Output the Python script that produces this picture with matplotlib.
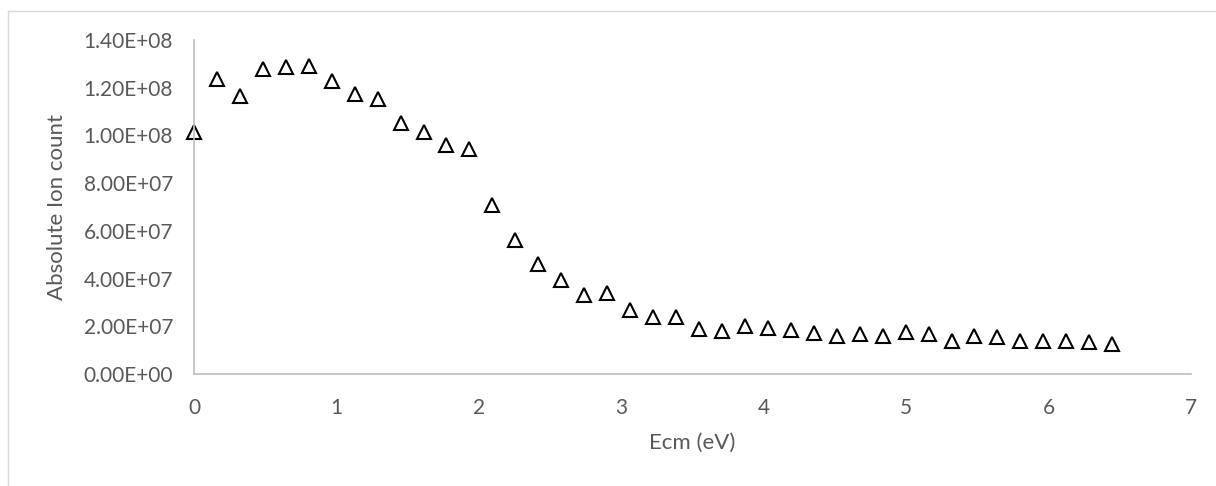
import matplotlib.pyplot as plt
from matplotlib.ticker import FuncFormatter
from matplotlib.lines import Line2D

plt.rcParams['font.family'] = ['Lato', 'DejaVu Sans']

# Ecm (eV) values and measured ion counts
ecm = [0.000, 0.161, 0.322, 0.484, 0.645, 0.806, 0.967, 1.128, 1.290, 1.451,
       1.612, 1.773, 1.934, 2.095, 2.257, 2.418, 2.579, 2.740, 2.901, 3.062,
       3.224, 3.385, 3.546, 3.707, 3.868, 4.029, 4.190, 4.352, 4.513, 4.674,
       4.835, 4.996, 5.158, 5.319, 5.480, 5.641, 5.802, 5.963, 6.124, 6.286,
       6.447]
ion_count = [1.014e8, 1.236e8, 1.165e8, 1.278e8, 1.285e8, 1.290e8, 1.228e8, 1.174e8, 1.153e8, 1.052e8,
             1.014e8, 9.58e7, 9.43e7, 7.10e7, 5.62e7, 4.59e7, 3.94e7, 3.31e7, 3.39e7, 2.68e7,
             2.39e7, 2.39e7, 1.89e7, 1.80e7, 2.03e7, 1.93e7, 1.84e7, 1.71e7, 1.61e7, 1.66e7,
             1.61e7, 1.74e7, 1.68e7, 1.38e7, 1.59e7, 1.55e7, 1.40e7, 1.40e7, 1.40e7, 1.34e7,
             1.26e7]

fig = plt.figure(figsize=(12.16, 4.86), dpi=100)
ax = fig.add_axes([0.1595, 0.2305, 0.8199, 0.6872])

ax.plot(ecm, ion_count, linestyle='none', marker='^', markersize=10,
        markerfacecolor='white', markeredgecolor='black', markeredgewidth=1.5,
        clip_on=False)

ax.set_xlim(0, 7)
ax.set_ylim(0, 1.4e8)
ax.set_xticks(range(0, 8))
ax.set_yticks([i * 2e7 for i in range(8)])
ax.yaxis.set_major_formatter(FuncFormatter(lambda v, p: '%.2E' % v))

for side in ['top', 'right']:
    ax.spines[side].set_visible(False)
for side in ['left', 'bottom']:
    ax.spines[side].set_color('#BFBFBF')
    ax.spines[side].set_linewidth(1.2)

ax.tick_params(length=0, labelsize=15, labelcolor='#595959')
ax.tick_params(axis='y', pad=15)
ax.tick_params(axis='x', pad=17)

ax.set_xlabel('Ecm (eV)', fontsize=16, color='#595959')
ax.set_ylabel('Absolute Ion count', fontsize=16, color='#595959')
ax.xaxis.set_label_coords(0.5, -0.175)
ax.yaxis.set_label_coords(-0.127, 0.5)

# light chart-area border (top and left visible)
fig.add_artist(Line2D([8 / 1216, 1], [1 - 11 / 486, 1 - 11 / 486], color='#D9D9D9', lw=1))
fig.add_artist(Line2D([8 / 1216, 8 / 1216], [0, 1 - 11 / 486], color='#D9D9D9', lw=1))

fig.savefig('out.png', dpi=100)
